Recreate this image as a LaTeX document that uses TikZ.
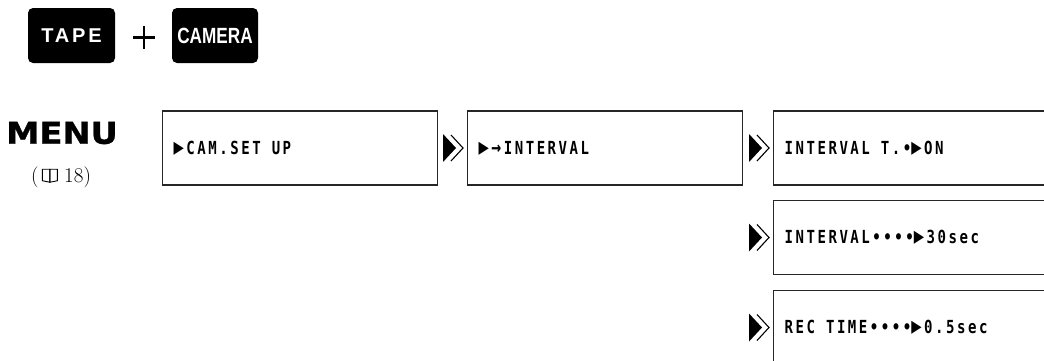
\documentclass[tikz,border=0pt]{standalone}
\usepackage{fontspec}
\newfontfamily\lcdfont[FakeStretch=0.78,LetterSpace=14]{DejaVu Sans Mono Bold}
\newfontfamily\keyfont{Liberation Sans Bold}
\newfontfamily\menufont[FakeStretch=1.12,FakeBold=1.2]{DejaVu Sans Bold}
\newcommand{\gap}{\hspace{11pt}}
\newcommand{\tri}{{\fontsize{22}{20}\selectfont ▶}\kern2.5pt}
\newcommand{\arr}{{\fontsize{21}{20}\selectfont →}\kern2.5pt}
% double arrow in front of a menu box
\newcommand{\chevron}[1]{%
  \fill ([xshift=-24pt,yshift=14pt]#1) -- ([xshift=-11pt]#1) -- ([xshift=-24pt,yshift=-14pt]#1) -- cycle;
  \draw[line width=1.1pt] ([xshift=-16pt,yshift=13pt]#1) -- ([xshift=-4pt]#1) -- ([xshift=-16pt,yshift=-13pt]#1);}
\newcommand{\bookicon}{\tikz[x=1pt,y=1pt,baseline=0pt,line width=0.9pt]{
  \draw (0,1.5) -- (0,13) -- (7.5,13) -- (7.5,0) -- cycle;
  \draw (15,1.5) -- (15,13) -- (7.5,13) -- (7.5,0) -- cycle;}}
\begin{document}
\begin{tikzpicture}[x=1pt,y=-1pt,
  keybox/.style={fill=black, rounded corners=5pt, minimum height=55pt, text=white, inner sep=0pt},
  menubox/.style={draw=black!85, line width=1.3pt, minimum height=74pt, inner xsep=11pt,
    inner ysep=0pt, anchor=west, align=left, font=\lcdfont\fontsize{18}{20}\selectfont}]
\clip (0,0) rectangle (1044,360);
% keys
\node[keybox, minimum width=87pt, font=\keyfont\fontsize{20}{22}\selectfont] (tape) at (71.5,35.5) {\addfontfeature{LetterSpace=14}TAPE};
\draw[line width=2.2pt] (133,37.5) -- (155,37.5) (144,26) -- (144,49);
\node[keybox, minimum width=86pt, font=\keyfont\fontsize{22}{24}\selectfont] (camera) at (215,35.5) {\addfontfeature{FakeStretch=0.78}CAMERA};
% menu
\node[font=\menufont\fontsize{30}{32}\selectfont, inner sep=0pt] (menu) at (62,133) {MENU};
\node[font=\fontsize{21}{24}\selectfont, inner sep=0pt] (page) at (61,177) {(\,\bookicon\ 18)};
% menu boxes
\node[menubox, text width=253pt] (b1) at (162,148) {\tri CAM.SET\gap UP};
\node[menubox, text width=253pt] (b2) at (467,148) {\tri\arr INTERVAL};
\node[menubox, text width=300pt] (b3) at (773,148) {INTERVAL\gap T.•\tri ON};
\node[menubox, text width=300pt] (b4) at (773,237.5) {INTERVAL••••\tri 30sec};
\node[menubox, text width=300pt] (b5) at (773,327.5) {REC\gap TIME••••\tri 0.5sec};
\chevron{b2.west}
\chevron{b3.west}
\chevron{b4.west}
\chevron{b5.west}
\end{tikzpicture}
\end{document}
